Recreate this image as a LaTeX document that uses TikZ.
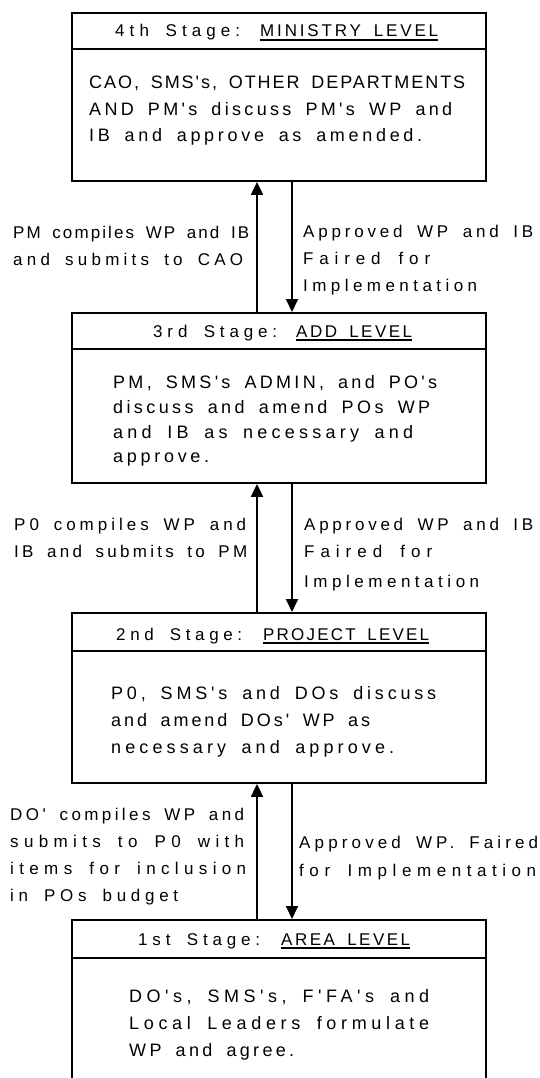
\documentclass[tikz,border=0pt]{standalone}
\usepackage{fontspec}
\setmainfont{Liberation Sans}[WordSpace=1.7,Ligatures=TeXOff]
\usetikzlibrary{arrows.meta}
\newlength\fwa
\newlength\fwb
\newcommand\fitto[2]{%
  \settowidth\fwa{\addfontfeature{LetterSpace=0}#2}%
  \settowidth\fwb{\addfontfeature{LetterSpace=10}#2}%
  \pgfmathsetmacro\lsv{10*(#1-\fwa)/(\fwb-\fwa)}%
  \mbox{\addfontfeature{LetterSpace=\lsv}#2}}
\newcommand\ulin[1]{\setbox0\hbox{#1}\rlap{\rule[-3.8pt]{\wd0}{1.7pt}}\box0}
\newcommand\fsb{\fontsize{18}{26}\selectfont}
\newcommand\fsl{\fontsize{17}{26}\selectfont}
\begin{document}
\begin{tikzpicture}[x=1pt,y=-1pt,
  frame/.style={draw=black, line width=1.9pt, inner sep=0pt, anchor=north west, minimum width=414pt},
  txt/.style={anchor=base west, inner sep=0pt, font=\fsb},
  lbl/.style={anchor=base west, inner sep=0pt, font=\fsl},
  arr/.style={line width=1.9pt, -{Triangle[width=12pt,length=13pt]}}]
\clip (0,0) rectangle (540,1078);
\fill[white] (0,0) rectangle (540,1078);
\coordinate (ux) at (257,0);
\coordinate (dx) at (292,0);
% ---- 4th stage
\node[frame, minimum height=36pt] (t4) at (71,12) {};
\node[frame, minimum height=132pt] (b4) at (71,48) {};
\node[lbl] (h4) at (115,37) {\fitto{125}{4th Stage:}};
\node[lbl] (u4) at (260,37) {\ulin{\fitto{178}{MINISTRY LEVEL}}};
\node[txt] (l4a) at (89,89) {\fitto{376}{CAO, SMS's, OTHER DEPARTMENTS}};
\node[txt] (l4b) at (89,116) {\fitto{363}{AND PM's discuss PM's WP and}};
\node[txt] (l4c) at (89,142) {\fitto{333}{IB and approve as amended.}};
% ---- labels 4-3
\node[lbl] (la1) at (13,238) {\fitto{236}{PM compiles WP and IB}};
\node[lbl] (la2) at (13,265) {\fitto{230}{and submits to CAO}};
\node[lbl] (ra1) at (303,237) {\fitto{230}{Approved WP and IB}};
\node[lbl] (ra2) at (303,264) {\fitto{127}{Faired for}};
\node[lbl] (ra3) at (303,291) {\fitto{174}{Implementation}};
% ---- 3rd stage
\node[frame, minimum height=36pt] (t3) at (71,312) {};
\node[frame, minimum height=134pt] (b3) at (71,348) {};
\node[lbl] (h3) at (153,337) {\fitto{124}{3rd Stage:}};
\node[lbl] (u3) at (296,337) {\ulin{\fitto{116}{ADD LEVEL}}};
\node[txt] (l3a) at (113,388) {\fitto{324}{PM, SMS's ADMIN, and PO's}};
\node[txt] (l3b) at (113,413) {\fitto{317}{discuss and amend POs WP}};
\node[txt] (l3c) at (113,438) {\fitto{300}{and IB as necessary and}};
\node[txt] (l3d) at (113,462) {\fitto{96}{approve.}};
% ---- labels 3-2
\node[lbl] (lb1) at (14,530) {\fitto{232}{P0 compiles WP and}};
\node[lbl] (lb2) at (14,557) {\fitto{233}{IB and submits to PM}};
\node[lbl] (rb1) at (304,530) {\fitto{229}{Approved WP and IB}};
\node[lbl] (rb2) at (304,557) {\fitto{128}{Faired for}};
\node[lbl] (rb3) at (304,587) {\fitto{175}{Implementation}};
% ---- 2nd stage
\node[frame, minimum height=38pt] (t2) at (71,612) {};
\node[frame, minimum height=132pt] (b2) at (71,650) {};
\node[lbl] (h2) at (116,640) {\fitto{126}{2nd Stage:}};
\node[lbl] (u2) at (263,640) {\ulin{\fitto{166}{PROJECT LEVEL}}};
\node[txt] (l2a) at (111,699) {\fitto{325}{P0, SMS's and DOs discuss}};
\node[txt] (l2b) at (111,726) {\fitto{259}{and amend DOs' WP as}};
\node[txt] (l2c) at (111,753) {\fitto{283}{necessary and approve.}};
% ---- labels 2-1
\node[lbl] (lc1) at (10,820) {\fitto{234}{DO' compiles WP and}};
\node[lbl] (lc2) at (10,847) {\fitto{234}{submits to P0 with}};
\node[lbl] (lc3) at (10,874) {\fitto{236}{items for inclusion}};
\node[lbl] (lc4) at (10,901) {\fitto{168}{in POs budget}};
\node[lbl] (rc1) at (299,848) {\fitto{239}{Approved WP. Faired}};
\node[lbl] (rc2) at (299,876) {\fitto{237}{for Implementation}};
% ---- 1st stage
\node[frame, minimum height=38pt] (t1) at (71,919) {};
\node[frame, minimum height=140pt] (b1) at (71,957) {};
\node[lbl] (h1) at (138,945) {\fitto{122}{1st Stage:}};
\node[lbl] (u1) at (281,945) {\ulin{\fitto{129}{AREA LEVEL}}};
\node[txt] (l1a) at (129,1002) {\fitto{300}{DO's, SMS's, F'FA's and}};
\node[txt] (l1b) at (129,1029) {\fitto{300}{Local Leaders formulate}};
\node[txt] (l1c) at (129,1056) {\fitto{165}{WP and agree.}};
% ---- arrows
\draw[arr] (t3.north -| ux) -- (b4.south -| ux);
\draw[arr] (b4.south -| dx) -- (t3.north -| dx);
\draw[arr] (t2.north -| ux) -- (b3.south -| ux);
\draw[arr] (b3.south -| dx) -- (t2.north -| dx);
\draw[arr] (t1.north -| ux) -- (b2.south -| ux);
\draw[arr] (b2.south -| dx) -- (t1.north -| dx);
\end{tikzpicture}
\end{document}
